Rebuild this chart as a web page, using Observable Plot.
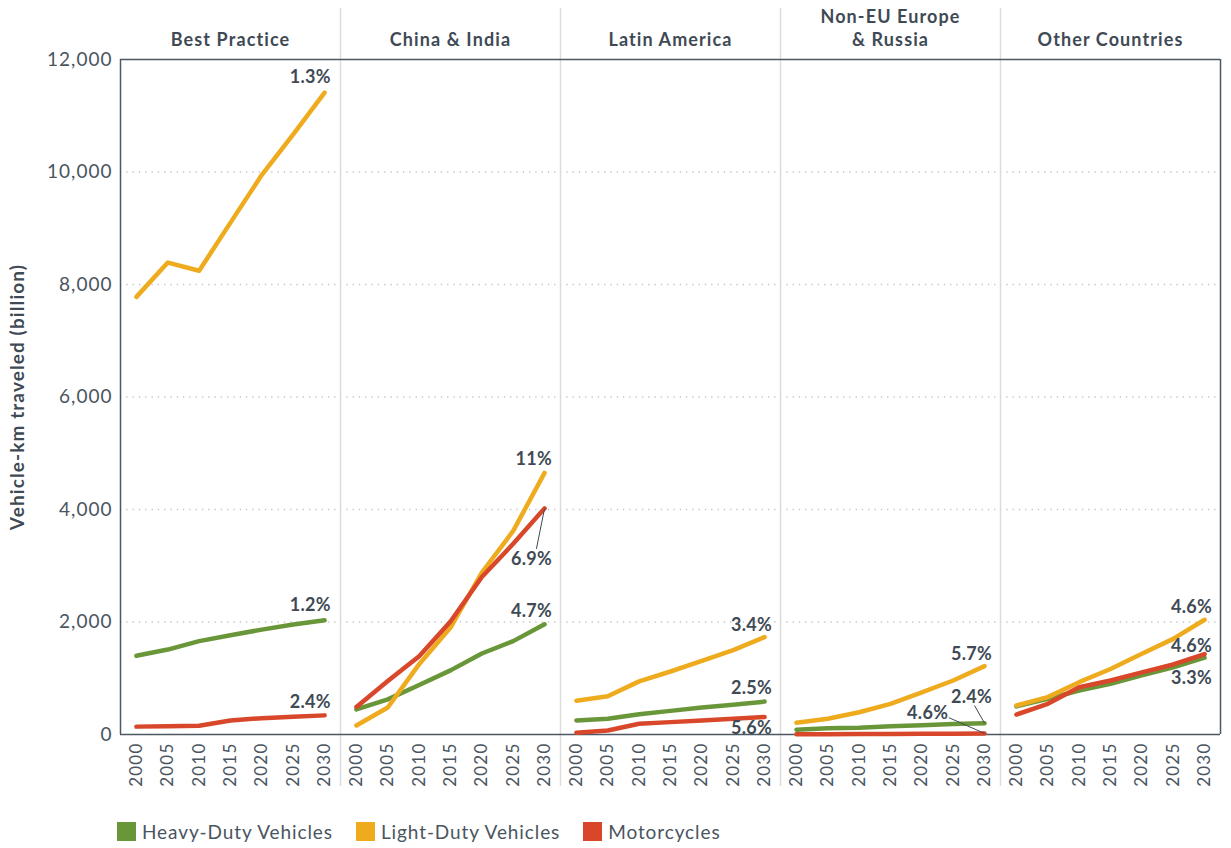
<!DOCTYPE html>
<html>
<head>
<meta charset="utf-8">
<script src="https://cdn.jsdelivr.net/npm/d3@7"></script>
<script src="https://cdn.jsdelivr.net/npm/@observablehq/plot@0.6"></script>
<style>
  body { margin: 0; background: #fff; font-family: Lato, "Noto Sans", sans-serif; }
  #chart svg { display: block; overflow: visible; }
  #chart [aria-label="fx-axis tick label"] text { letter-spacing: 1.1px; }
  #chart [aria-label="y-axis tick label"] text { letter-spacing: 1px; }
  #chart [aria-label="x-axis tick label"] text { letter-spacing: 1.2px; }
  #chart [aria-label="y-axis label"] text { letter-spacing: 1.1px; }
  #chart [aria-label="text"] text { letter-spacing: 0.3px; }
  .legend { display: flex; align-items: center; padding-left: 117px; margin-top: 20px; font-size: 19px; color: #4a5560; letter-spacing: 0.9px; }
  .legend .item { display: flex; align-items: center; margin-right: 23px; }
  .legend .sw { width: 19px; height: 19px; margin-right: 6px; }
</style>
</head>
<body>
<div id="chart"></div>
<div class="legend" id="legend"></div>
<script>
// ---------- data ----------
const regions = ["Best Practice", "China & India", "Latin America", "Non-EU Europe\n& Russia", "Other Countries"];
const types = ["Heavy-Duty Vehicles", "Light-Duty Vehicles", "Motorcycles"];
const colors = ["#6a963a", "#efab1e", "#d9472a"];
const years = [2000, 2005, 2010, 2015, 2020, 2025, 2030];
const yTicks = [0, 2000, 4000, 6000, 8000, 10000, 12000];

// Vehicle-km traveled (billion)
const bestHDV  = [1400, 1510, 1660, 1765, 1865, 1955, 2030];
const bestLDV  = [7780, 8390, 8245, 9100, 9950, 10670, 11410];
const bestMC   = [140, 145, 155, 250, 290, 315, 340];

const chinaHDV = [445, 625, 880, 1140, 1440, 1660, 1960];
const chinaLDV = [160, 480, 1250, 1900, 2880, 3620, 4650];
const chinaMC  = [490, 950, 1390, 2010, 2800, 3390, 4020];

const latamHDV = [250, 280, 360, 420, 480, 530, 585];
const latamLDV = [600, 680, 945, 1120, 1310, 1500, 1730];
const latamMC  = [30, 70, 190, 220, 250, 280, 310];

const euroHDV  = [85, 110, 120, 145, 165, 185, 200];
const euroLDV  = [210, 280, 395, 545, 750, 960, 1215];
const euroMC   = [5, 6, 8, 10, 12, 15, 19];

const otherHDV = [500, 635, 780, 900, 1050, 1195, 1365];
const otherLDV = [515, 665, 930, 1165, 1435, 1700, 2040];
const otherMC  = [355, 545, 840, 960, 1105, 1245, 1430];

const seriesByRegion = [
  [bestHDV, bestLDV, bestMC],
  [chinaHDV, chinaLDV, chinaMC],
  [latamHDV, latamLDV, latamMC],
  [euroHDV, euroLDV, euroMC],
  [otherHDV, otherLDV, otherMC]
];

// growth-rate annotations: region index, label, label anchor (year, value)
const labelRegion = [0, 0, 0, 1, 1, 1, 2, 2, 2, 3, 3, 3, 4, 4, 4];
const labelText   = ["1.3%", "1.2%", "2.4%", "11%", "6.9%", "4.7%", "3.4%", "2.5%", "5.6%", "5.7%", "2.4%", "4.6%", "4.6%", "4.6%", "3.3%"];
const labelYear   = [2031, 2031, 2031, 2031.2, 2031.2, 2031.2, 2031.2, 2031.2, 2031.2, 2031.2, 2031.2, 2024.2, 2031.2, 2031.2, 2031.2];
const labelValue  = [11690, 2290, 575, 4900, 3110, 2200, 1950, 815, 110, 1420, 660, 380, 2260, 1565, 995];

// leader lines: region index, series index, label-end (year, value)
const leaderRegion = [1, 3, 3];
const leaderType   = [2, 0, 2];
const leaderYear   = [2028.7, 2028.4, 2024.3];
const leaderValue  = [3300, 515, 300];

// ---------- build tables ----------
const rows = [];
seriesByRegion.forEach((ser, r) => ser.forEach((vals, t) => vals.forEach((v, i) =>
  rows.push({region: regions[r], type: types[t], year: years[i], value: v}))));

const labels = labelText.map((t, i) => ({region: regions[labelRegion[i]], text: t, x: labelYear[i], y: labelValue[i]}));
const leaders = leaderRegion.map((r, i) => ({
  region: regions[r],
  x1: years[years.length - 1], y1: seriesByRegion[r][leaderType[i]][years.length - 1],
  x2: leaderYear[i], y2: leaderValue[i]
}));

const xPad = 2.54;
const xDomain = [years[0] - xPad, years[years.length - 1] + xPad];
const dark = "#4d5862";
const textCol = "#3f4a55";

const chart = Plot.plot({
  width: 1231,
  height: 800,
  marginLeft: 118,
  marginRight: 9,
  marginTop: 59,
  marginBottom: 66,
  style: {fontFamily: "Lato, 'Noto Sans', sans-serif", color: textCol, background: "#fff"},
  fx: {domain: regions, padding: 0, label: null},
  x: {domain: xDomain, label: null},
  y: {domain: [0, 12000], label: null},
  color: {domain: types, range: colors},
  marks: [
    Plot.ruleY(yTicks.slice(1, -1), {stroke: "#c4c4c4", strokeWidth: 1.3, strokeDasharray: "1.3,5"}),
    Plot.ruleX(regions.slice(1), {fx: d => d, x: xDomain[0], stroke: "#dcdcdc", strokeWidth: 1.5, insetTop: -51, insetBottom: -52}),
    Plot.ruleY([0, 12000], {stroke: dark, strokeWidth: 1.5}),
    Plot.ruleX([regions[0]], {fx: d => d, x: xDomain[0], stroke: dark, strokeWidth: 1.5}),
    Plot.ruleX([regions[regions.length - 1]], {fx: d => d, x: xDomain[1], stroke: dark, strokeWidth: 1.5}),
    Plot.axisY({ticks: yTicks, tickSize: 0, tickPadding: 8, tickFormat: d3.format(","), fontSize: 19, fill: "#4a5560",
      label: "Vehicle-km traveled (billion)", labelAnchor: "center", labelArrow: "none", labelOffset: 110}),
    Plot.axisX({ticks: years, tickSize: 0, tickPadding: 8, tickRotate: -90, tickFormat: d => String(d), fontSize: 17, fill: "#4a5560", label: null}),
    Plot.axisFx({anchor: "top", tickSize: 0, tickPadding: 14, fontSize: 18, fontWeight: "bold", lineHeight: 1.25, fill: "#3f4a55", label: null}),
    Plot.line(rows, {fx: "region", x: "year", y: "value", z: "type", stroke: "type", strokeWidth: 4.5, strokeLinecap: "round", strokeLinejoin: "round"}),
    Plot.link(leaders, {fx: "region", x1: "x1", y1: "y1", x2: "x2", y2: "y2", stroke: "#3f4a55", strokeWidth: 1}),
    Plot.text(labels, {fx: "region", x: "x", y: "y", text: "text", textAnchor: "end", fontSize: 18, fontWeight: "bold", fill: textCol})
  ]
});
document.getElementById("chart").appendChild(chart);

// y-axis label styling
chart.querySelectorAll('[aria-label="y-axis label"] text').forEach(t => {
  t.setAttribute("font-weight", "bold");
  t.setAttribute("font-size", "19");
  t.setAttribute("fill", textCol);
});

// legend
const legend = document.getElementById("legend");
types.forEach((t, i) => {
  const item = document.createElement("div");
  item.className = "item";
  const sw = document.createElement("div");
  sw.className = "sw";
  sw.style.background = colors[i];
  const lab = document.createElement("span");
  lab.textContent = t;
  item.appendChild(sw);
  item.appendChild(lab);
  legend.appendChild(item);
});
</script>
</body>
</html>
